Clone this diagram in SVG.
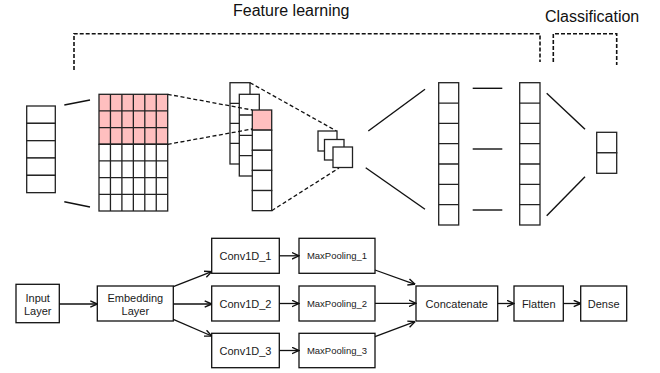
<svg xmlns="http://www.w3.org/2000/svg" width="660" height="373" viewBox="0 0 660 373">
<defs>
<marker id="ah" viewBox="0 0 8 8" refX="7.5" refY="4" markerWidth="8" markerHeight="8" markerUnits="userSpaceOnUse" orient="auto">
<path d="M0.5,0.8 L7.5,4 L0.5,7.2" fill="none" stroke="#111" stroke-width="1.4"/>
</marker>
<style>
.c{fill:#fff;stroke:#222;stroke-width:1.3}
.p{fill:#ffbfbf;stroke:#222;stroke-width:1.3}
.l{stroke:#111;stroke-width:1.4;fill:none}
.d{stroke:#111;stroke-width:1.6;fill:none;stroke-dasharray:4 2}
.dl{stroke:#111;stroke-width:1.3;fill:none;stroke-dasharray:4 2.5}
.b{fill:#fff;stroke:#111;stroke-width:1.3}
.t{font-family:"Liberation Sans",Arial,sans-serif;font-size:11px;fill:#1a1a1a;text-anchor:middle}
.ts{font-family:"Liberation Sans",Arial,sans-serif;font-size:9.5px;fill:#1a1a1a;text-anchor:middle}
.h{font-family:"Liberation Sans",Arial,sans-serif;font-size:16px;fill:#111}
.a{stroke:#111;stroke-width:1.3;fill:none;marker-end:url(#ah)}
</style>
</defs>
<rect width="660" height="373" fill="#fff"/>

<!-- headings and brackets -->
<text class="h" x="233" y="16">Feature learning</text>
<text class="h" x="545" y="21.5">Classification</text>
<path class="d" d="M74,70 V33.7 H540 V62"/>
<path class="d" d="M553.3,62 V33.7 H616.7 V65"/>

<!-- input vector -->
<g id="input-vector">
<rect class="c" x="26.7" y="106" width="28.6" height="17.33"/>
<rect class="c" x="26.7" y="123.33" width="28.6" height="17.33"/>
<rect class="c" x="26.7" y="140.67" width="28.6" height="17.33"/>
<rect class="c" x="26.7" y="158" width="28.6" height="17.33"/>
<rect class="c" x="26.7" y="175.33" width="28.6" height="17.33"/>
</g>
<line class="l" x1="64.3" y1="105" x2="90" y2="100"/>
<line class="l" x1="64.3" y1="201.7" x2="90" y2="207"/>

<!-- embedding grid -->
<g id="embedding-grid">
<rect class="p" x="99" y="94.3" width="68.7" height="50"/>
<rect class="c" x="99" y="144.3" width="68.7" height="66.7"/>
<path stroke="#222" stroke-width="1.3" fill="none" d="M110.45,94.3V211 M121.9,94.3V211 M133.35,94.3V211 M144.8,94.3V211 M156.25,94.3V211 M99,110.97H167.7 M99,127.63H167.7 M99,144.3H167.7 M99,160.97H167.7 M99,177.63H167.7 M99,194.3H167.7"/>
</g>

<!-- conv filters -->
<g id="conv-maps">
<rect class="c" x="230" y="82.7" width="20" height="81.3"/>
<path stroke="#222" stroke-width="1.3" d="M230,103.3H250 M230,123.3H250 M230,143.3H250"/>
<rect class="c" x="239.3" y="94.3" width="20" height="81.7"/>
<path stroke="#222" stroke-width="1.3" d="M239.3,115H259.3 M239.3,135.3H259.3 M239.3,155.7H259.3"/>
<rect class="p" x="252.3" y="110" width="19.4" height="20.13"/>
<rect class="c" x="252.3" y="130.13" width="19.4" height="20.13"/>
<rect class="c" x="252.3" y="150.27" width="19.4" height="20.13"/>
<rect class="c" x="252.3" y="170.4" width="19.4" height="20.13"/>
<rect class="c" x="252.3" y="190.53" width="19.4" height="20.13"/>
</g>
<line class="dl" x1="167.7" y1="94.3" x2="252.3" y2="110"/>
<line class="dl" x1="167.7" y1="144.3" x2="252.3" y2="129"/>
<line class="dl" x1="250" y1="82.7" x2="336.5" y2="131"/>
<line class="dl" x1="271.7" y1="210.7" x2="339" y2="168"/>

<!-- pooled maps -->
<g id="pooled-maps">
<rect class="c" x="318" y="131" width="19" height="20"/>
<rect class="c" x="324.5" y="139.5" width="19.5" height="20.5"/>
<rect class="c" x="333" y="147" width="19.5" height="20.5"/>
</g>
<line class="l" x1="368.3" y1="131" x2="425" y2="89.3"/>
<line class="l" x1="365.7" y1="167.7" x2="425" y2="209.3"/>

<!-- flatten column -->
<g id="flatten-column">
<rect class="c" x="438.7" y="82.7" width="20" height="142.3"/>
<path stroke="#222" stroke-width="1.3" d="M438.7,103.03H458.7 M438.7,123.36H458.7 M438.7,143.69H458.7 M438.7,164.01H458.7 M438.7,184.34H458.7 M438.7,204.67H458.7"/>
</g>
<line class="l" x1="472.7" y1="88.3" x2="502.3" y2="88.3"/>
<line class="l" x1="472.7" y1="149" x2="502.3" y2="149"/>
<line class="l" x1="472.7" y1="210" x2="502.3" y2="210"/>

<!-- dense column -->
<g id="dense-column">
<rect class="c" x="519.7" y="82.7" width="20.3" height="142.3"/>
<path stroke="#222" stroke-width="1.3" d="M519.7,103.03H540 M519.7,123.36H540 M519.7,143.69H540 M519.7,164.01H540 M519.7,184.34H540 M519.7,204.67H540"/>
</g>
<line class="l" x1="546.7" y1="93.3" x2="585" y2="129.3"/>
<line class="l" x1="546.7" y1="215.7" x2="585" y2="176.7"/>

<!-- output -->
<g id="output-vector">
<rect class="c" x="596.7" y="132.3" width="20" height="20.5"/>
<rect class="c" x="596.7" y="152.8" width="20" height="20.5"/>
</g>

<!-- flowchart nodes -->
<g id="node-input">
<rect class="b" x="16" y="284.3" width="43.3" height="38.4"/>
<text class="t" x="37.7" y="302">Input</text>
<text class="t" x="37.7" y="315">Layer</text>
</g>
<g id="node-embedding">
<rect class="b" x="97.3" y="286" width="76" height="35"/>
<text class="t" x="135.3" y="302">Embedding</text>
<text class="t" x="135.3" y="315">Layer</text>
</g>
<g id="node-conv1">
<rect class="b" x="211.7" y="238.3" width="67.6" height="35"/>
<text class="t" x="245.5" y="259.8">Conv1D_1</text>
</g>
<g id="node-conv2">
<rect class="b" x="211.7" y="286" width="67.6" height="35"/>
<text class="t" x="245.5" y="307.5">Conv1D_2</text>
</g>
<g id="node-conv3">
<rect class="b" x="211.7" y="333.3" width="67.6" height="34.4"/>
<text class="t" x="245.5" y="354.5">Conv1D_3</text>
</g>
<g id="node-pool1">
<rect class="b" x="299" y="238.3" width="76" height="35"/>
<text class="ts" x="337" y="259.3">MaxPooling_1</text>
</g>
<g id="node-pool2">
<rect class="b" x="299" y="286" width="76" height="35"/>
<text class="ts" x="337" y="307">MaxPooling_2</text>
</g>
<g id="node-pool3">
<rect class="b" x="299" y="333.3" width="76" height="34.4"/>
<text class="ts" x="337" y="354">MaxPooling_3</text>
</g>
<g id="node-concat">
<rect class="b" x="416" y="286" width="81.7" height="35"/>
<text class="t" x="456.8" y="307.5">Concatenate</text>
</g>
<g id="node-flatten">
<rect class="b" x="514" y="286" width="49.3" height="35"/>
<text class="t" x="538.7" y="307.5">Flatten</text>
</g>
<g id="node-dense">
<rect class="b" x="580.7" y="286" width="46" height="35"/>
<text class="t" x="603.7" y="307.5">Dense</text>
</g>

<!-- connectors -->
<g id="connectors">
<line class="a" x1="59.3" y1="304" x2="97.3" y2="304"/>
<line class="a" x1="173.3" y1="286.7" x2="211.7" y2="271.7"/>
<line class="a" x1="173.3" y1="304" x2="211.7" y2="304"/>
<line class="a" x1="173.3" y1="319.3" x2="211.7" y2="336"/>
<line class="a" x1="279.3" y1="255.8" x2="299" y2="255.8"/>
<line class="a" x1="279.3" y1="303.5" x2="299" y2="303.5"/>
<line class="a" x1="279.3" y1="350.5" x2="299" y2="350.5"/>
<line class="a" x1="375" y1="270" x2="415" y2="284.3"/>
<line class="a" x1="375" y1="303.3" x2="416" y2="303.3"/>
<line class="a" x1="375" y1="336.7" x2="415" y2="321.7"/>
<line class="a" x1="497.7" y1="303.5" x2="514" y2="303.5"/>
<line class="a" x1="563.3" y1="303.5" x2="580.7" y2="303.5"/>
</g>
</svg>
